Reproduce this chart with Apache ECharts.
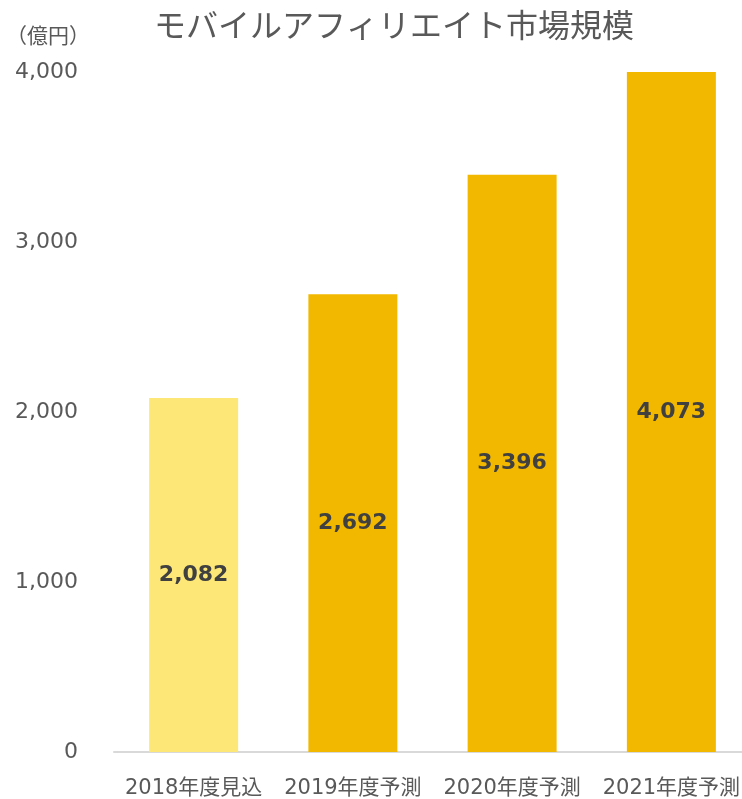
<!DOCTYPE html>
<html>
<head>
<meta charset="utf-8">
<script src="https://cdn.jsdelivr.net/npm/echarts@6/dist/echarts.min.js"></script>
<style>
  html, body { margin: 0; padding: 0; background: #fff; overflow: hidden; }
  /* 右端は Excel と同じくプロット領域が少しはみ出す */
  #chart { width: 751px; height: 799px; }
</style>
</head>
<body>
<div id="chart"></div>
<script>
// データ
const categories = ['2018年度見込', '2019年度予測', '2020年度予測', '2021年度予測']
const marketSize = [2082, 2692, 3396, 4073]
const yTicks = [0, 1000, 2000, 3000, 4000]

const numFont = 'DejaVu Sans'
const jpFont = '"Noto Sans CJK JP", sans-serif'

function comma(v) {
  return String(v).replace(/\B(?=(\d{3})+(?!\d))/g, ',')
}

const chart = echarts.init(document.getElementById('chart'))
chart.setOption({
  backgroundColor: '#ffffff',
  animation: false,
  title: {
    text: 'モバイルアフィリエイト市場規模',
    left: 389,
    textAlign: 'center',
    top: 4,
    textStyle: {
      fontFamily: jpFont,
      fontSize: 32,
      fontWeight: 'normal',
      color: '#595959'
    }
  },
  graphic: [
    {
      type: 'text',
      left: 6,
      top: 25,
      style: {
        text: '（億円）',
        fontFamily: jpFont,
        fontSize: 21,
        fill: '#595959'
      }
    }
  ],
  grid: {
    left: 114,
    right: 0,
    top: 72,
    bottom: 47
  },
  xAxis: {
    type: 'category',
    data: categories,
    axisLine: { show: true, lineStyle: { color: '#D9D9D9', width: 2 } },
    axisTick: { show: false },
    axisLabel: {
      interval: 0,
      margin: 26,
      fontFamily: numFont + ', ' + jpFont,
      fontSize: 21,
      color: '#595959'
    }
  },
  yAxis: {
    type: 'value',
    min: yTicks[0],
    max: yTicks[yTicks.length - 1],
    interval: yTicks[1] - yTicks[0],
    axisLine: { show: false },
    axisTick: { show: false },
    splitLine: { show: false },
    axisLabel: {
      margin: 36,
      fontFamily: numFont,
      fontSize: 22,
      color: '#595959',
      formatter: v => comma(v)
    }
  },
  series: [
    {
      type: 'bar',
      data: marketSize,
      barWidth: 89,
      clip: true,
      itemStyle: {
        color: p => (p.dataIndex === 0 ? '#FDE877' : '#F2B800')
      },
      label: {
        show: true,
        position: 'inside',
        fontFamily: numFont,
        fontSize: 22,
        fontWeight: 'bold',
        color: '#404040',
        formatter: p => comma(p.value)
      }
    }
  ]
})
</script>
</body>
</html>
